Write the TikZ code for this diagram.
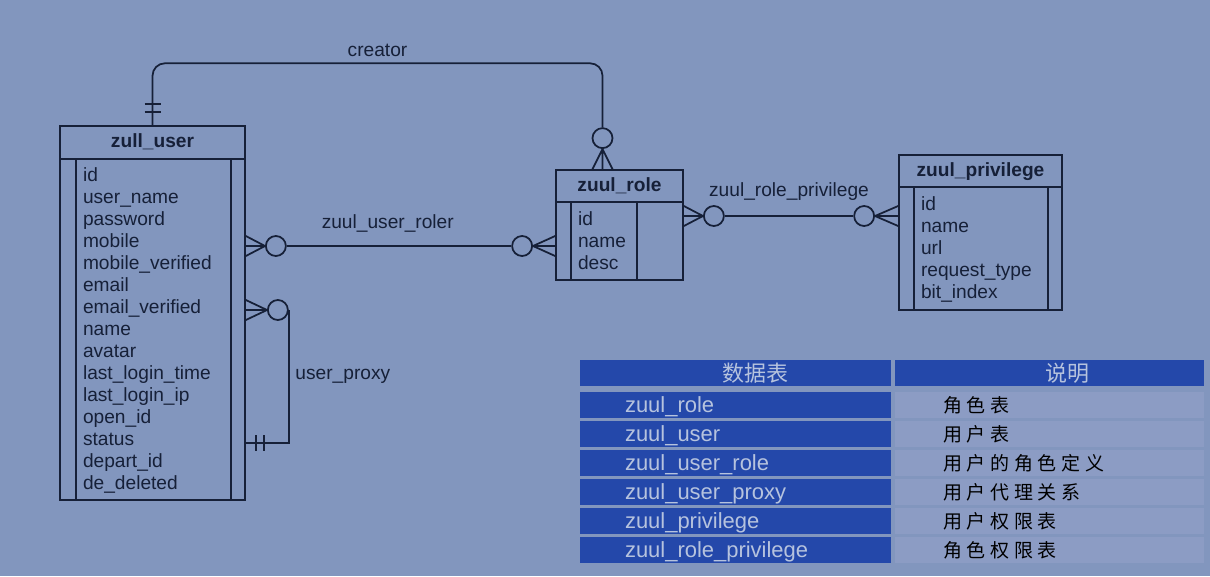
\documentclass[tikz,border=0pt]{standalone}
\usepackage{fontspec}
\setmainfont{Liberation Sans}
\newfontfamily\cjk[LetterSpace=25]{Noto Sans CJK SC}
\newfontfamily\cjkhead{Noto Sans CJK SC}
\usetikzlibrary{calc}
\definecolor{bg}{RGB}{130,150,190}
\definecolor{ink}{RGB}{22,32,56}
\definecolor{hdblue}{RGB}{36,72,170}
\definecolor{cellgray}{RGB}{140,156,196}
\definecolor{pale}{RGB}{182,195,222}

\begin{document}
\begin{tikzpicture}[x=0.02cm, y=-0.02cm, line width=1pt, color=ink,
        font=\fontsize{10.9}{12.5}\selectfont,
        tbl/.style={draw=ink, rectangle, inner sep=0pt},
        ttl/.style={font=\fontsize{10.9}{12.5}\selectfont\bfseries},
        fld/.style={align=left, anchor=north west, inner sep=0pt},
        ring/.style={circle, draw=ink, fill=bg, minimum size=0.4cm, inner sep=0pt},
        cell/.style={draw=none, minimum height=0.52cm, inner ysep=0pt, align=left,
                     text height=9pt, text depth=0pt, font=\fontsize{12.5}{14}\selectfont},
        head/.style={cell, fill=hdblue, text=pale, text height=11pt, text depth=1.5pt},
        desc/.style={cell, fill=cellgray, text=black, text height=9.5pt, text depth=1.3pt}]
    \fill[bg] (0,0) rectangle (1210,576);
    \useasboundingbox (0,0) rectangle (1210,576);

    % tables
    \node[tbl, minimum width=3.7cm, minimum height=7.48cm] (user) at (152.5,313) {};
    \draw (user.north west) ++(0,34) -- ++(185,0);
    \draw (user.north west) ++(17,34) -- ++(0,340);
    \draw (user.north east) ++(-15,34) -- ++(0,340);
    \node[ttl] (user-t) at ($(user.north)+(0,17)$) {zull\_user};
    \node[fld] (user-f) at ($(user.north west)+(23,42)$) {id\\user\_name\\password\\mobile\\mobile\_verified\\email\\email\_verified\\name\\avatar\\last\_login\_time\\last\_login\_ip\\open\_id\\status\\depart\_id\\de\_deleted};

    \node[tbl, minimum width=2.54cm, minimum height=2.2cm] (role) at (619.5,225) {};
    \draw (role.north west) ++(0,33) -- ++(127,0);
    \draw (role.north west) ++(16,33) -- ++(0,77);
    \draw (role.north east) ++(-47,33) -- ++(0,77);
    \node[ttl] (role-t) at ($(role.north)+(0,17)$) {zuul\_role};
    \node[fld] (role-f) at ($(role.north west)+(22,42)$) {id\\name\\desc};

    \node[tbl, minimum width=3.26cm, minimum height=3.1cm] (priv) at (980.5,232.5) {};
    \draw (priv.north west) ++(0,33) -- ++(163,0);
    \draw (priv.north west) ++(16,33) -- ++(0,122);
    \draw (priv.north east) ++(-15,33) -- ++(0,122);
    \node[ttl] (priv-t) at ($(priv.north)+(0,17)$) {zuul\_privilege};
    \node[fld] (priv-f) at ($(priv.north west)+(22,42)$) {id\\name\\url\\request\_type\\bit\_index};

    % creator
    \coordinate (cr) at ($(role.north)+(-17,0)$);
    \node[ring] (o1) at ($(cr)+(0,-31)$) {};
    \draw[rounded corners=0.25cm] (user.north) |- node[above, pos=0.75] {creator} ($(o1.north)+(0,-64)$) -- (o1.north);
    \draw (o1.south) -- (cr) (o1.south) -- ($(cr)+(-10,0)$) (o1.south) -- ($(cr)+(10,0)$);
    \draw ($(user.north)+(-8,-13)$) -- ++(16,0) ($(user.north)+(-8,-21)$) -- ++(16,0);

    % zuul_user_roler
    \node[ring] (o2) at ($(user.east)+(30,-67)$) {};
    \node[ring] (o3) at ($(role.west)+(-33,21)$) {};
    \draw (o2) -- node[above=4pt, pos=0.45] {zuul\_user\_roler} (o3);
    \draw (o2.west) -- ($(user.east)+(0,-77)$) (o2.west) -- ($(user.east)+(0,-67)$) (o2.west) -- ($(user.east)+(0,-57)$);
    \draw (o3.east) -- ($(role.west)+(0,11)$) (o3.east) -- ($(role.west)+(0,21)$) (o3.east) -- ($(role.west)+(0,31)$);

    % user_proxy
    \node[ring] (o4) at ($(user.east)+(32,-3)$) {};
    \draw (o4.west) -- ($(user.east)+(0,-13)$) (o4.west) -- ($(user.east)+(0,-3)$) (o4.west) -- ($(user.east)+(0,7)$);
    \draw (o4.east) |- node[right, pos=0.25] {user\_proxy} ($(user.east)+(0,130)$);
    \draw ($(user.east)+(10,122)$) -- ++(0,16) ($(user.east)+(18,122)$) -- ++(0,16);

    % zuul_role_privilege
    \node[ring] (o5) at ($(role.east)+(30,-9)$) {};
    \node[ring] (o6) at ($(priv.west)+(-34,-16.5)$) {};
    \draw (o5) -- node[above=5pt] {zuul\_role\_privilege} (o6);
    \draw (o5.west) -- ($(role.east)+(0,-19)$) (o5.west) -- ($(role.east)+(0,-9)$) (o5.west) -- ($(role.east)+(0,1)$);
    \draw (o6.east) -- ($(priv.west)+(0,-26.5)$) (o6.east) -- ($(priv.west)+(0,-16.5)$) (o6.east) -- ($(priv.west)+(0,-6.5)$);

    % legend
    \node[head, minimum width=6.22cm] (h1) at (735.5,373) {\hspace{0.8cm}\cjkhead 数据表};
    \node[head, minimum width=6.18cm] (h2) at (1049.5,373) {\hspace{0.7cm}\cjkhead 说明};
    \foreach \t/\d [count=\i] in {zuul\_role/角色表, zuul\_user/用户表, zuul\_user\_role/用户的角色定义,
            zuul\_user\_proxy/用户代理关系, zuul\_privilege/用户权限表, zuul\_role\_privilege/角色权限表} {
        \node[cell, fill=hdblue, text=pale, inner xsep=0.9cm, text width=4.42cm] (n\i) at (735.5,376+29*\i) {\t};
        \node[desc, inner xsep=0.96cm, text width=4.26cm] (d\i) at (1049.5,376+29*\i) {\cjk\fontsize{10.8}{12}\selectfont \d};
    }
\end{tikzpicture}
\end{document}
